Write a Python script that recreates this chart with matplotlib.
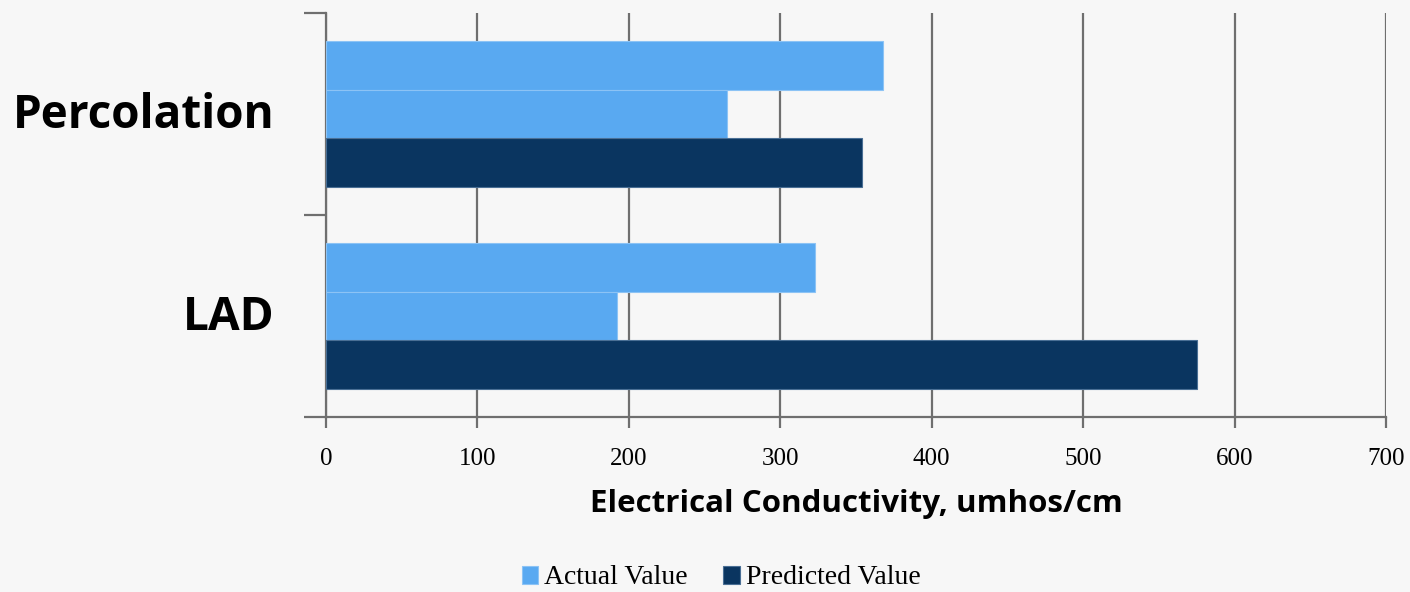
import matplotlib.pyplot as plt
import numpy as np

categories = ["LAD", "Percolation"]
actual_1 = [323, 368]
actual_2 = [192, 265]
predicted = [575, 354]

LIGHT = "#59a9f1"
DARK = "#0a3560"
GRID = "#6f6f6f"
BG = "#f7f7f7"

fig = plt.figure(figsize=(14.1, 5.92), dpi=100, facecolor=BG)
ax = fig.add_axes([326 / 1410, 1 - 417 / 592, 1060 / 1410, 404 / 592])
ax.set_facecolor(BG)

y = np.arange(len(categories))
h = 0.24
ax.barh(y + h, actual_1, h, color=LIGHT, edgecolor="#8cc3f5", linewidth=0.8, zorder=3)
ax.barh(y, actual_2, h, color=LIGHT, edgecolor="#8cc3f5", linewidth=0.8, zorder=3,
        label="Actual Value")
ax.barh(y - h, predicted, h, color=DARK, edgecolor="#4a6f95", linewidth=0.8, zorder=3,
        label="Predicted Value")

ax.set_xlim(0, 700)
ax.set_ylim(-0.5, 1.5)
ax.set_xticks(np.arange(0, 701, 100))
ax.xaxis.grid(True, color=GRID, linewidth=1.6, zorder=0)

# category labels sit between the tick marks
ax.set_yticks([-0.5, 0.5, 1.5])
ax.set_yticklabels([])
ax.set_yticks(y + 0.02, minor=True)
ax.set_yticklabels(categories, minor=True, fontsize=33, fontweight="bold",
                   family="Open Sans")
ax.tick_params(axis="y", which="minor", length=0, pad=37)
ax.tick_params(axis="y", which="major", length=16, width=1.6, color=GRID)
ax.tick_params(axis="x", length=8, width=1.6, color=GRID, pad=14)
for lab in ax.get_xticklabels():
    lab.set_fontfamily("Liberation Serif")
    lab.set_fontsize(18)

for side in ("top", "right"):
    ax.spines[side].set_visible(False)
for side in ("left", "bottom"):
    ax.spines[side].set_color(GRID)
    ax.spines[side].set_linewidth(1.6)

ax.set_xlabel("Electrical Conductivity, umhos/cm", fontsize=22.5, fontweight="bold",
              family="Open Sans", labelpad=14)

handles, labels = ax.get_legend_handles_labels()
fig.legend(handles, labels, loc="center", bbox_to_anchor=(721 / 1410, 1 - 578 / 592),
           ncol=2, frameon=False, prop={"family": "Liberation Serif", "size": 20},
           handlelength=0.6, handleheight=0.6, handletextpad=0.2, columnspacing=1.3)

fig.savefig("out.png", dpi=100, facecolor=BG)
